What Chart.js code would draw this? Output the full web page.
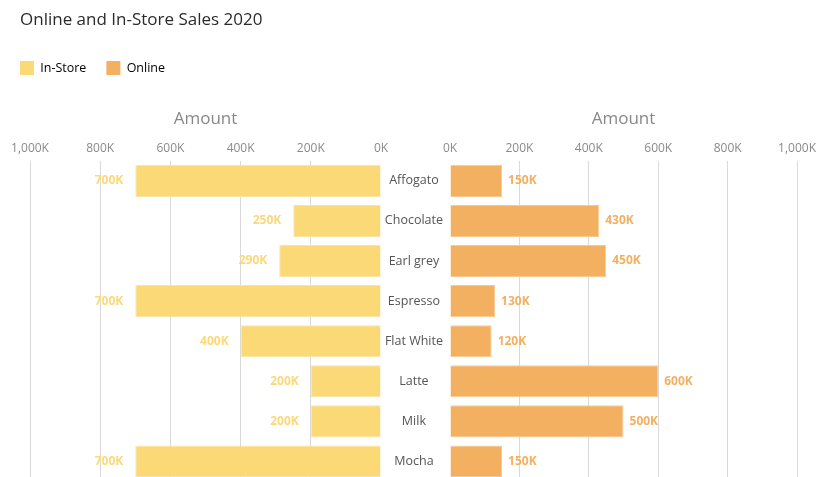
<!DOCTYPE html>
<html>
<head>
<meta charset="utf-8">
<title>Online and In-Store Sales 2020</title>
<script src="https://cdn.jsdelivr.net/npm/chart.js@4/dist/chart.umd.min.js"></script>
<style>
  html, body { margin: 0; padding: 0; background: #fff; overflow: hidden; }
  #wrap { position: relative; width: 821px; height: 477px; overflow: hidden; }
  canvas { position: absolute; left: 0; top: 0; }
</style>
</head>
<body>
<div id="wrap">
  <canvas id="storeChart" width="821" height="496"></canvas>
  <canvas id="onlineChart" width="821" height="496"></canvas>
</div>
<script>
const chartTitle = "Online and In-Store Sales 2020";
const categories = ["Affogato", "Chocolate", "Earl grey", "Espresso", "Flat White", "Latte", "Milk", "Mocha"];
const inStoreSales = [700000, 250000, 290000, 700000, 400000, 200000, 200000, 700000];
const onlineSales = [150000, 430000, 450000, 130000, 120000, 600000, 500000, 150000];
const amountTicks = [0, 200000, 400000, 600000, 800000, 1000000];

const FONT = "'Open Sans', 'Noto Sans', sans-serif";
const YELLOW = "#FBD977";
const ORANGE = "#F3B060";

Chart.defaults.font.family = FONT;

function kFormat(v) {
    return (v / 1000).toLocaleString("en-US") + "K";
}

// title drawn by hand so it can sit at x=20 while the legend keeps its own padding
const titlePlugin = {
    id: "pageTitle",
    afterDraw(chart) {
        const ctx = chart.ctx;
        ctx.save();
        ctx.font = "17px " + FONT;
        ctx.fillStyle = "#2b2b2b";
        ctx.textBaseline = "middle";
        ctx.textAlign = "left";
        ctx.fillText(chartTitle, 20, 20);
        ctx.restore();
    }
};

// value labels at the end of each bar
const barLabels = {
    id: "barLabels",
    afterDatasetsDraw(chart, args, opts) {
        const ctx = chart.ctx;
        const meta = chart.getDatasetMeta(0);
        const values = chart.data.datasets[0].data;
        ctx.save();
        ctx.font = "bold 12px " + FONT;
        ctx.fillStyle = opts.color;
        ctx.textBaseline = "middle";
        ctx.textAlign = opts.side === "left" ? "right" : "left";
        meta.data.forEach((bar, i) => {
            const x = opts.side === "left" ? bar.x - opts.offset : bar.x + opts.offset;
            ctx.fillText(kFormat(values[i]), x, bar.y);
        });
        ctx.restore();
    }
};

function amountAxis(reverse) {
    return {
        position: "top",
        reverse: reverse,
        min: 0,
        max: 1000000,
        afterBuildTicks: axis => { axis.ticks = amountTicks.map(v => ({ value: v })); },
        border: { display: false },
        grid: {
            drawTicks: false,
            color: c => (c.tick && c.tick.value === 0 ? "rgba(0,0,0,0)" : "#d9d9d9")
        },
        ticks: {
            color: "#8a8a8a",
            font: { size: 12 },
            padding: 5,
            maxRotation: 0,
            callback: v => kFormat(v)
        },
        title: {
            display: true,
            text: "Amount",
            color: "#888",
            font: { size: 17 },
            padding: { top: 24, bottom: 7 }
        }
    };
}

const storeChart = new Chart(document.getElementById("storeChart"), {
    type: "bar",
    data: {
        labels: categories,
        datasets: [{
            label: "In-Store",
            data: inStoreSales,
            backgroundColor: YELLOW,
            borderColor: "#FCE4A4",
            borderWidth: 1,
            categoryPercentage: 0.8,
            barPercentage: 1
        }]
    },
    options: {
        indexAxis: "y",
        responsive: false,
        animation: false,
        layout: { padding: { top: 41, right: 440, bottom: 14, left: 0 } },
        plugins: {
            legend: {
                align: "start",
                onClick: () => {},
                labels: {
                    boxWidth: 14,
                    boxHeight: 14,
                    padding: 20,
                    color: "#666",
                    font: { size: 12.5 },
                    generateLabels: () => [
                        { text: "In-Store", fillStyle: YELLOW, strokeStyle: YELLOW, lineWidth: 0, hidden: false },
                        { text: "Online", fillStyle: ORANGE, strokeStyle: ORANGE, lineWidth: 0, hidden: false }
                    ]
                }
            },
            tooltip: { enabled: false },
            barLabels: { side: "left", color: YELLOW, offset: 12 }
        },
        scales: {
            x: amountAxis(true),
            y: {
                grid: { display: false, drawTicks: false },
                border: { display: false },
                ticks: { display: false },
                afterFit: s => { s.width = 30; }
            }
        }
    },
    plugins: [titlePlugin, barLabels]
});

const onlineChart = new Chart(document.getElementById("onlineChart"), {
    type: "bar",
    data: {
        labels: categories,
        datasets: [{
            label: "Online",
            data: onlineSales,
            backgroundColor: ORANGE,
            borderColor: "#F7CA93",
            borderWidth: 1,
            categoryPercentage: 0.8,
            barPercentage: 1
        }]
    },
    options: {
        indexAxis: "y",
        responsive: false,
        animation: false,
        layout: { padding: { top: storeChart.scales.x.top, right: 21, bottom: 8, left: 0 } },
        plugins: {
            legend: { display: false },
            tooltip: { enabled: false },
            barLabels: { side: "right", color: ORANGE, offset: 6 }
        },
        scales: {
            x: amountAxis(false),
            y: {
                grid: { display: false, drawTicks: false },
                border: { display: false },
                ticks: {
                    color: "#555",
                    font: { size: 12.5 },
                    crossAlign: "center",
                    padding: 7
                },
                afterFit: s => { s.width = 450; }
            }
        }
    },
    plugins: [barLabels]
});

// the category labels add bottom padding to the online chart, so match it on the left
storeChart.options.layout.padding.bottom = 496 - onlineChart.chartArea.bottom;
storeChart.update("none");
</script>
</body>
</html>
